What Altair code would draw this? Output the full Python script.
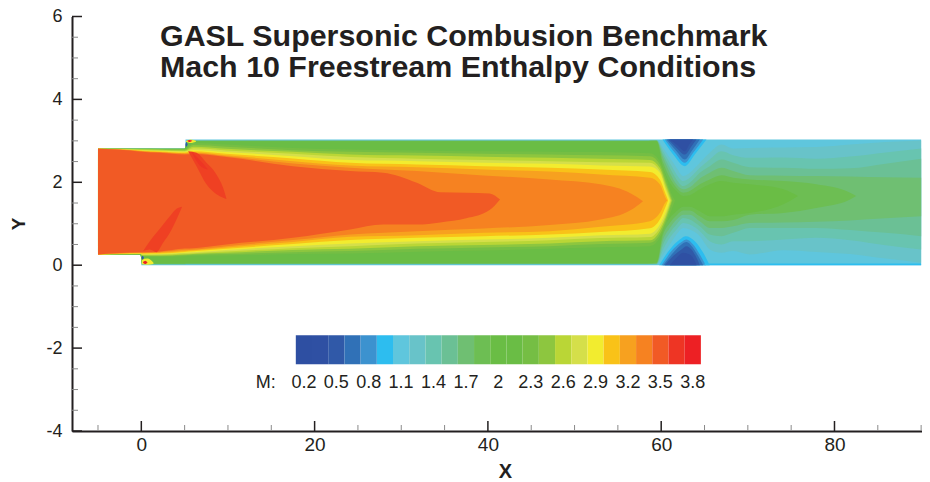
import altair as alt
import pandas as pd

LEVELS = [0.2, 0.35, 0.5, 0.65, 0.8, 0.95, 1.1, 1.25, 1.4, 1.55, 1.7, 1.85, 2.0, 2.15,
          2.3, 2.45, 2.6, 2.75, 2.9, 3.05, 3.2, 3.35, 3.5, 3.65, 3.8]
COLORS = ["#2E4FA2", "#2F50A3", "#3059A8", "#3071B7", "#3C92CF", "#2DBDEF", "#5FC6DD", "#68C3C9",
          "#68C4B0", "#6BC095", "#6FBF72", "#6DBE53", "#6ABD45", "#6ABD45", "#75BE44", "#8DC63F",
          "#BAD636", "#D5DF4A", "#F2EC2F", "#F9C218", "#F7A11F", "#F68221", "#F15A25", "#EE3524", "#ED2024"]
LOBE_LEVEL, LOBE_COLOR = 3.6, "#EF4023"
LEGEND_LABELS = ["0.2", "0.5", "0.8", "1.1", "1.4", "1.7", "2", "2.3", "2.6", "2.9", "3.2", "3.5", "3.8"]
X_MAJOR = [0, 20, 40, 60, 80]
X_MINOR = [-5, 5, 10, 15, 25, 30, 35, 45, 50, 55, 65, 70, 75, 85, 90]
Y_MAJOR = [-4, -2, 0, 2, 4, 6]
Y_MINOR = [-3.5, -3, -2.5, -1.5, -1, -0.5, 0.5, 1, 1.5, 2.5, 3, 3.5, 4.5, 5, 5.5]

# Duct outline (M = 1.1 region)
X_BASE = [-5, -0.001, 0.001, 5.1, 5.101, 90]
TOP_BASE = [2.81, 2.81, 2.81, 2.81, 3.03, 3.03]
BOT_BASE = [0.26, 0.26, 0, 0, 0, 0]

# Stations for M >= L contours below 2.3
X_LO = [-5, -0.1, 0.1, 5, 5.3, 30, 58.5, 59.46, 60.23, 61, 61.77, 62.54, 63.3, 64.46, 65.6, 66.96,
        68.3, 70.2, 74.1, 77.9, 81.8, 85.9, 90]
TOP_125 = [2.81, 2.81, 2.81, 2.81, 3.015, 3.015, 3.015, 3.02, 2.83, 2.59, 2.35, 2.15, 2.23, 2.47, 2.71, 2.91,
           2.815, 2.83, 2.84, 2.85, 2.91, 2.97, 3.01]
BOT_125 = [0.26, 0.26, 0.015, 0.015, 0.02, 0.02, 0.02, 0.02, 0.26, 0.50, 0.74, 0.90, 0.86, 0.70, 0.38, 0.30,
           0.34, 0.26, 0.36, 0.32, 0.27, 0.16, 0.06]
TOP_140 = [2.81, 2.81, 2.81, 2.81, 3.01, 3.01, 3.01, 3.02, 2.75, 2.47, 2.19, 2.03, 2.11, 2.35, 2.55, 2.75,
           2.655, 2.59, 2.60, 2.57, 2.62, 2.72, 2.815]
BOT_140 = [0.26, 0.26, 0.02, 0.02, 0.025, 0.025, 0.025, 0.025, 0.38, 0.66, 0.86, 1.02, 0.98, 0.82, 0.58, 0.50,
           0.58, 0.58, 0.62, 0.66, 0.60, 0.48, 0.38]
TOP_155 = [2.81, 2.81, 2.81, 2.81, 3.005, 3.005, 3.005, 3.01, 2.67, 2.35, 2.07, 1.91, 1.99, 2.23, 2.39, 2.55,
           2.47, 2.365, 2.35, 2.325, 2.34, 2.45, 2.57]
BOT_155 = [0.26, 0.26, 0.025, 0.025, 0.03, 0.03, 0.03, 0.03, 0.50, 0.78, 0.98, 1.14, 1.10, 0.94, 0.74, 0.70,
           0.78, 0.90, 0.90, 0.90, 0.85, 0.78, 0.70]
TOP_170 = [2.81, 2.81, 2.81, 2.81, 3.0, 3.0, 3.0, 3.005, 2.59, 2.23, 1.95, 1.83, 1.88, 2.09, 2.23, 2.35,
           2.27, 2.17, 2.16, 2.15, 2.14, 2.12, 2.11]
BOT_170 = [0.26, 0.26, 0.03, 0.03, 0.035, 0.035, 0.035, 0.04, 0.62, 0.90, 1.10, 1.22, 1.22, 1.06, 0.90, 0.90,
           0.94, 1.02, 1.03, 1.05, 1.08, 1.13, 1.18]
X_185 = [-5, -0.1, 0.1, 5, 5.3, 30, 58.5, 59.46, 60.23, 61, 61.77, 62.54, 63.3, 64.46, 65.6, 66.96,
         68.3, 70.2, 74.1, 77.9, 81.8, 82.5]
TOP_185 = [2.81, 2.81, 2.81, 2.81, 2.995, 2.995, 2.995, 3.0, 2.47, 2.11, 1.87, 1.75, 1.79, 1.95, 2.07, 2.17,
           2.11, 2.07, 2.03, 1.95, 1.75, 1.67]
BOT_185 = [0.26, 0.26, 0.035, 0.035, 0.04, 0.04, 0.04, 0.05, 0.74, 1.02, 1.20, 1.32, 1.32, 1.18, 1.06, 1.06,
           1.09, 1.22, 1.26, 1.38, 1.585, 1.67]
X_200 = [-5, -0.1, 0.1, 5, 5.3, 30, 58.5, 59.46, 60.23, 61, 61.77, 62.54, 63.3, 64.46, 65.6, 66.96,
         68.3, 70.2, 74.1, 75.8]
TOP_200 = [2.81, 2.81, 2.81, 2.81, 2.99, 2.99, 2.99, 2.99, 2.35, 1.99, 1.79, 1.67, 1.69, 1.83, 1.95, 2.03,
           1.99, 1.95, 1.83, 1.67]
BOT_200 = [0.26, 0.26, 0.04, 0.04, 0.045, 0.045, 0.045, 0.07, 0.86, 1.14, 1.30, 1.41, 1.41, 1.30, 1.18, 1.18,
           1.22, 1.26, 1.47, 1.67]

# Low-Mach lobes under the upper wall
X_T095 = [60.15, 61.38, 62.73, 63.88, 65.23]
Y_T095 = [3.03, 2.67, 2.39, 2.67, 3.03]
X_T080 = [60.42, 61.58, 62.73, 63.69, 64.85]
Y_T080 = [3.03, 2.71, 2.47, 2.71, 3.03]
X_T065 = [60.61, 61.77, 62.73, 63.5, 64.46]
Y_T065 = [3.03, 2.75, 2.55, 2.75, 3.03]
X_T050 = [60.81, 61.77, 62.73, 63.5, 64.08]
Y_T050 = [3.03, 2.83, 2.67, 2.87, 3.03]
X_T035 = [61.0, 61.77, 62.73, 63.3, 63.69]
Y_T035 = [3.03, 2.91, 2.75, 2.93, 3.03]
# Low-Mach lobes over the lower wall
X_B095 = [59.77, 61.0, 62.15, 62.84, 63.88, 64.85, 65.6]
Y_B095 = [0, 0.38, 0.62, 0.70, 0.58, 0.30, 0]
X_B080 = [60.04, 61.19, 62.34, 62.92, 63.69, 64.46, 65.15]
Y_B080 = [0, 0.34, 0.56, 0.62, 0.50, 0.26, 0]
X_B065 = [60.23, 61.38, 62.34, 62.92, 63.6, 64.27, 64.85]
Y_B065 = [0, 0.30, 0.50, 0.56, 0.44, 0.22, 0]
X_B050 = [60.42, 61.38, 62.34, 62.92, 63.5, 64.08, 64.46]
Y_B050 = [0, 0.22, 0.38, 0.46, 0.38, 0.18, 0]
X_B035 = [61.0, 61.77, 62.54, 63.3, 63.88, 64.08]
Y_B035 = [0, 0.18, 0.30, 0.26, 0.10, 0]

# M >= L contours of the hot core
X_HI = [-5, -0.1, 0.1, 2.1, 5, 6, 9.8, 17.5, 24.1, 31.8, 39.5, 47.1, 53, 58.7, 59.84, 60.6]
X_230 = X_HI + [61.2, 61.6]
TOP_230 = [2.807, 2.807, 2.807, 2.805, 2.80, 2.95, 2.91, 2.83, 2.79, 2.77, 2.75, 2.74, 2.73, 2.70, 2.51, 2.11, 1.71, 1.56]
BOT_230 = [0.26, 0.26, 0.20, 0.20, 0.215, 0.23, 0.235, 0.27, 0.283, 0.325, 0.355, 0.395, 0.435, 0.46, 0.66, 1.02, 1.34, 1.56]
X_245 = X_HI + [61.3]
TOP_245 = [2.807, 2.805, 2.80, 2.795, 2.79, 2.90, 2.86, 2.775, 2.735, 2.71, 2.69, 2.67, 2.65, 2.63, 2.43, 1.99, 1.56]
BOT_245 = [0.26, 0.265, 0.22, 0.22, 0.24, 0.25, 0.27, 0.315, 0.34, 0.395, 0.43, 0.46, 0.51, 0.54, 0.74, 1.10, 1.56]
X_260 = X_HI + [61.2]
TOP_260 = [2.807, 2.80, 2.795, 2.785, 2.77, 2.86, 2.807, 2.735, 2.67, 2.645, 2.615, 2.59, 2.57, 2.54, 2.35, 1.91, 1.56]
BOT_260 = [0.26, 0.27, 0.235, 0.235, 0.26, 0.27, 0.30, 0.365, 0.395, 0.46, 0.49, 0.525, 0.58, 0.60, 0.82, 1.18, 1.56]
X_275 = X_HI + [61.1]
TOP_275 = [2.807, 2.78, 2.775, 2.765, 2.75, 2.82, 2.77, 2.69, 2.61, 2.57, 2.535, 2.51, 2.485, 2.47, 2.28, 1.83, 1.56]
BOT_275 = [0.26, 0.275, 0.25, 0.25, 0.28, 0.29, 0.33, 0.41, 0.46, 0.525, 0.56, 0.60, 0.655, 0.68, 0.90, 1.25, 1.56]
X_290 = X_HI + [61.0]
TOP_290 = [2.807, 2.77, 2.77, 2.755, 2.735, 2.78, 2.73, 2.63, 2.535, 2.51, 2.47, 2.445, 2.405, 2.38, 2.23, 1.77, 1.56]
BOT_290 = [0.26, 0.28, 0.265, 0.27, 0.30, 0.31, 0.365, 0.46, 0.525, 0.58, 0.62, 0.66, 0.72, 0.76, 0.98, 1.32, 1.56]
X_305 = X_HI + [60.8]
TOP_305 = [2.807, 2.765, 2.76, 2.745, 2.72, 2.75, 2.69, 2.575, 2.47, 2.43, 2.39, 2.35, 2.31, 2.25, 2.07, 1.67, 1.56]
BOT_305 = [0.26, 0.285, 0.28, 0.283, 0.32, 0.335, 0.395, 0.51, 0.605, 0.66, 0.70, 0.74, 0.80, 0.89, 1.10, 1.46, 1.56]
X_320 = X_HI + [60.7]
TOP_320 = [2.807, 2.755, 2.75, 2.73, 2.70, 2.72, 2.655, 2.51, 2.405, 2.365, 2.31, 2.26, 2.19, 2.11, 1.95, 1.59, 1.56]
BOT_320 = [0.26, 0.295, 0.29, 0.30, 0.345, 0.36, 0.43, 0.56, 0.685, 0.725, 0.78, 0.82, 0.925, 1.06, 1.26, 1.545, 1.56]
X_335 = [-5, -0.1, 0.1, 2.1, 5, 6, 9.8, 17.5, 24.1, 31.8, 39.5, 47.1, 53, 56.5, 57.9]
TOP_335 = [2.807, 2.75, 2.745, 2.725, 2.69, 2.70, 2.63, 2.455, 2.35, 2.27, 2.165, 2.07, 1.95, 1.73, 1.545]
BOT_335 = [0.26, 0.30, 0.30, 0.315, 0.37, 0.38, 0.46, 0.605, 0.74, 0.82, 0.885, 0.97, 1.10, 1.33, 1.545]
X_350 = [-5, -0.1, 0.1, 2.1, 5, 6, 9.8, 17.5, 24.1, 27.9, 31.8, 34.5, 37.5, 40.2, 41.4]
TOP_350 = [2.807, 2.74, 2.735, 2.71, 2.67, 2.68, 2.61, 2.39, 2.27, 2.23, 1.99, 1.76, 1.75, 1.73, 1.585]
BOT_350 = [0.26, 0.31, 0.31, 0.33, 0.40, 0.41, 0.50, 0.66, 0.86, 0.98, 0.98, 1.03, 1.13, 1.33, 1.585]

# Injector shock lobes
X_LOBE_U = [5.4, 6.37, 7.52, 8.67, 9.44, 9.83]
TOP_LOBE_U = [2.75, 2.71, 2.47, 2.19, 1.87, 1.60]
BOT_LOBE_U = [2.75, 2.39, 1.95, 1.71, 1.63, 1.60]
X_LOBE_L = [0.21, 0.98, 1.75, 2.52, 3.29, 4.06, 4.71]
TOP_LOBE_L = [0.34, 0.58, 0.78, 0.98, 1.18, 1.36, 1.41]
BOT_LOBE_L = [0.34, 0.38, 0.315, 0.54, 0.78, 1.10, 1.41]
X_SUB_U = [5.8, 6.7, 7.7]
TOP_SUB_U = [2.74, 2.55, 2.31]
BOT_SUB_U = [2.74, 2.42, 2.31]

W, H = 850, 414.5
FONT = "Liberation Sans"
INK = "#231F20"
X_SCALE = alt.Scale(domain=[-8, 90.1], nice=False, zero=False)
Y_SCALE = alt.Scale(domain=[-4, 6], nice=False, zero=False)
COLOR_SCALE = alt.Scale(domain=LEVELS + [LOBE_LEVEL], range=COLORS + [LOBE_COLOR])
X_AXIS = alt.Axis(values=X_MAJOR, ticks=False, grid=False, domainColor=INK, domainWidth=2, labelFont=FONT,
                  labelFontSize=19, labelColor=INK, labelPadding=4, labelFlush=False, title="X", titleFont=FONT,
                  titleFontSize=20, titleFontWeight="bold", titleColor=INK, titleX=433, titleY=30)
Y_AXIS = alt.Axis(values=Y_MAJOR, ticks=False, grid=False, domainColor=INK, domainWidth=2, labelFont=FONT,
                  labelFontSize=18, labelColor=INK, labelPadding=10, labelFlush=False, labelExpr="datum.value + ''",
                  title="Y", titleFont=FONT, titleFontSize=19, titleFontWeight="bold", titleColor=INK,
                  titleX=-44, titleY=207)


def X(f):
    return alt.X(f, scale=X_SCALE, axis=X_AXIS)


def Y(f):
    return alt.Y(f, scale=Y_SCALE, axis=Y_AXIS)


def band(level, xs, top, bot, interp="monotone"):
    df = pd.DataFrame({"X": xs, "Y": top, "Y2": bot, "M": [level] * len(xs)})
    return alt.Chart(df).mark_area(interpolate=interp).encode(
        x=X("X:Q"), y=Y("Y:Q"), y2="Y2:Q",
        color=alt.Color("M:O", scale=COLOR_SCALE, legend=None),
    )


def wall(xs, v=3.03):
    return [v] * len(xs)


layers = [band(1.1, X_BASE, TOP_BASE, BOT_BASE, "linear")]
for lvl, xs, t, b in [
    (1.25, X_LO, TOP_125, BOT_125), (1.4, X_LO, TOP_140, BOT_140), (1.55, X_LO, TOP_155, BOT_155),
    (1.7, X_LO, TOP_170, BOT_170), (1.85, X_185, TOP_185, BOT_185), (2.0, X_200, TOP_200, BOT_200),
    (2.3, X_230, TOP_230, BOT_230), (2.45, X_245, TOP_245, BOT_245), (2.6, X_260, TOP_260, BOT_260),
    (2.75, X_275, TOP_275, BOT_275), (2.9, X_290, TOP_290, BOT_290), (3.05, X_305, TOP_305, BOT_305),
    (3.2, X_320, TOP_320, BOT_320), (3.35, X_335, TOP_335, BOT_335), (3.5, X_350, TOP_350, BOT_350),
    (LOBE_LEVEL, X_LOBE_U, TOP_LOBE_U, BOT_LOBE_U), (LOBE_LEVEL, X_LOBE_L, TOP_LOBE_L, BOT_LOBE_L),
    (3.65, X_SUB_U, TOP_SUB_U, BOT_SUB_U),
]:
    layers.append(band(lvl, xs, t, b))
for lvl, xs, y in [(0.95, X_T095, Y_T095), (0.8, X_T080, Y_T080), (0.65, X_T065, Y_T065),
                   (0.5, X_T050, Y_T050), (0.35, X_T035, Y_T035)]:
    layers.append(band(lvl, xs, wall(xs), y))
for lvl, xs, y in [(0.95, X_B095, Y_B095), (0.8, X_B080, Y_B080), (0.65, X_B065, Y_B065),
                   (0.5, X_B050, Y_B050), (0.35, X_B035, Y_B035)]:
    layers.append(band(lvl, xs, y, wall(xs, 0)))

# bright wall strip and step hot spots
layers.append(band(0.95, [65, 90], [0.04, 0.04], [0, 0], "linear"))
layers.append(band(2.9, [0.05, 0.7, 1.4], [0.15, 0.16, 0.06], [0.02, 0.01, 0.03]))
layers.append(band(3.8, [0.2, 0.45, 0.7], [0.08, 0.11, 0.07], [0.06, 0.03, 0.06]))
layers.append(band(0.5, [0.02, 0.15, 0.3], [0.18, 0.23, 0.18], [0.18, 0.13, 0.18]))
layers.append(band(2.9, [5.15, 5.7, 6.3], [2.99, 3.03, 3.0], [2.98, 2.95, 2.98]))
layers.append(band(3.8, [5.3, 5.55, 5.9], [3.0, 3.02, 3.0], [3.0, 2.97, 3.0]))
layers.append(band(0.5, [5.08, 5.2, 5.35], [2.91, 2.97, 2.91], [2.91, 2.86, 2.91]))

# M colour bar
LEG_X0, LEG_DX = 17.83, 1.87
leg = pd.DataFrame({"M": LEVELS})
leg["i"] = range(len(LEVELS))
leg["x"] = LEG_X0 + leg["i"] * LEG_DX
leg["x2"] = leg["x"] + LEG_DX
leg["y"] = -1.69
leg["y2"] = -2.39
layers.append(alt.Chart(leg).mark_rect().encode(
    x=X("x:Q"), x2="x2:Q", y=Y("y:Q"), y2="y2:Q",
    color=alt.Color("M:O", scale=COLOR_SCALE, legend=None)))
lab = pd.DataFrame({"t": LEGEND_LABELS})
lab["x"] = [LEG_X0 + (2 * i + 0.5) * LEG_DX for i in range(len(LEGEND_LABELS))]
lab["y"] = -2.83
layers.append(alt.Chart(lab).mark_text(font=FONT, fontSize=18, color=INK, baseline="middle").encode(
    x=X("x:Q"), y=Y("y:Q"), text="t:N"))
layers.append(alt.Chart(pd.DataFrame({"t": ["M:"], "x": [14.37], "y": [-2.83]})).mark_text(
    font=FONT, fontSize=18, color=INK, baseline="middle").encode(
    x=X("x:Q"), y=Y("y:Q"), text="t:N"))

# inward ticks
layers.append(alt.Chart(pd.DataFrame({"X": X_MINOR})).mark_rule(color="#8a8a8a", strokeWidth=1).encode(
    x=X("X:Q"), y=alt.value(H), y2=alt.value(H - 6)))
layers.append(alt.Chart(pd.DataFrame({"Y": Y_MINOR})).mark_rule(color="#8a8a8a", strokeWidth=1).encode(
    y=Y("Y:Q"), x=alt.value(0), x2=alt.value(6)))
layers.append(alt.Chart(pd.DataFrame({"X": X_MAJOR})).mark_rule(color=INK, strokeWidth=1.5).encode(
    x=X("X:Q"), y=alt.value(H), y2=alt.value(H - 10)))
layers.append(alt.Chart(pd.DataFrame({"Y": Y_MAJOR})).mark_rule(color=INK, strokeWidth=1.5).encode(
    y=Y("Y:Q"), x=alt.value(0), x2=alt.value(10)))

chart = alt.layer(*layers).properties(
    width=W, height=H,
    padding={"left": 64, "top": 8.5, "right": 0, "bottom": 52},
    autosize=alt.AutoSizeParams(type="none"),
    background="white",
    title=alt.TitleParams(
        text=["GASL Supersonic Combusion Benchmark", "Mach 10 Freestream Enthalpy Conditions"],
        font=FONT, fontSize=30.4, fontWeight="bold", color=INK, anchor="start", frame="group",
        dx=88, dy=80, lineHeight=31),
).configure_view(stroke=None)

chart.save("out.html", embed_options={"renderer": "svg", "actions": False})
